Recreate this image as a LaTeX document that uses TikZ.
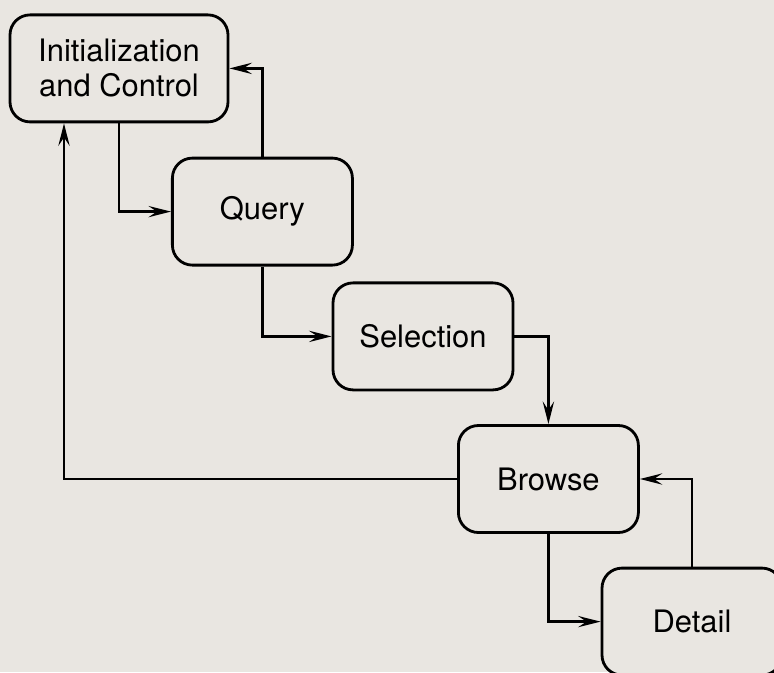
\documentclass[tikz,border=0pt]{standalone}
\usepackage{fontspec}
\setmainfont{TeX Gyre Heros}
\usetikzlibrary{arrows.meta}
\definecolor{paper}{RGB}{233,230,225}
\begin{document}
\begin{tikzpicture}[
    font=\fontsize{22}{25}\selectfont,
    stage/.style={draw, line width=2pt, rounded corners=0.5cm, fill=paper,
                  minimum width=4.5cm, minimum height=2.675cm, align=center},
    flow/.style={-{Stealth[length=16pt, width=8pt, inset=6pt]}, line width=1.8pt}
]

% Page
\fill[paper] (0,0) rectangle (19.35,-16.8);
\useasboundingbox (0,0) rectangle (19.35,-16.8);
\clip (0,0) rectangle (19.35,-16.8);

% Stages
\node[stage, minimum width=5.45cm] (init) at (2.975,-1.71)  {Initialization\\and Control};
\node[stage] (query)  at (6.56,-5.29)   {Query};
\node[stage] (select) at (10.575,-8.41) {Selection};
\node[stage] (browse) at (13.71,-11.975) {Browse};
\node[stage] (detail) at (17.3,-15.54)  {Detail};

% Forward steps
\draw[flow] (init.south)   |- (query.west);
\draw[flow] (query.south)  |- (select.west);
\draw[flow] (select.east)  -| (browse.north);
\draw[flow] (browse.south) |- (detail.west);

% Returns
\draw[flow] (query.north)  |- (init.east);
\draw[flow] (detail.north) |- (browse.east);
\draw[flow] (browse.west)  -| ([xshift=-1.375cm]init.south);

\end{tikzpicture}
\end{document}
